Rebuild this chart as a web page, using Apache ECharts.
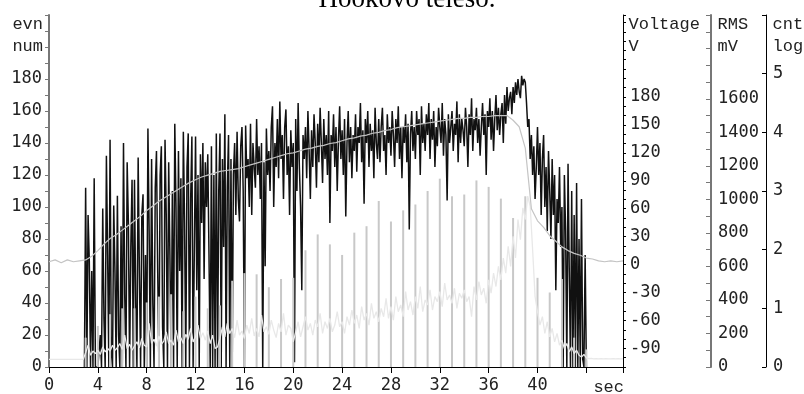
<!DOCTYPE html>
<html><head><meta charset="utf-8">
<script src="https://cdn.jsdelivr.net/npm/echarts@6/dist/echarts.min.js"></script>
<style>html,body{margin:0;padding:0;background:#fff}#c{width:804px;height:394px}</style>
</head><body><div id="c"></div>
<script>
// ---- data ----
const evnStart = 2.9, evnStep = 0.1;   // event count (left axis), sampled every 0.1 s
const evnValues = [0,
112,0,95,66,0,60,0,118,0,0,
0,0,20,0,99,30,0,132,70,0,
142,10,0,101,60,0,107,20,0,88,
0,140,45,0,128,90,0,75,117,0,
117,40,0,131,60,0,95,108,0,70,
0,149,85,0,130,40,0,112,135,60,
0,120,138,25,0,142,95,0,128,70,
0,110,0,152,100,0,135,60,118,0,
147,90,0,125,146,0,105,144,0,0,
144,48,120,0,133,90,140,55,128,100,
133,70,0,138,0,120,0,146,0,110,
146,0,130,75,158,0,112,145,0,130,
0,120,140,95,147,105,91,138,150,110,
0,151,118,130,100,152,95,140,125,112,
155,120,138,105,140,0,128,63,149,120,
135,110,150,163,100,140,125,155,118,166,
130,145,105,150,161,120,138,95,148,125,
140,3,155,110,165,125,100,48,145,130,
150,118,160,135,105,148,125,158,140,112,
152,128,162,140,115,155,130,145,120,160,
90,145,135,158,125,150,110,142,163,130,
148,120,155,94,140,160,128,150,118,145,
135,158,122,150,140,165,128,148,102,155,
140,160,125,152,135,148,118,162,140,130,
155,128,150,162,135,145,120,158,140,150,
132,160,145,125,155,140,163,130,150,118,
150,140,158,128,152,86,145,160,135,150,
130,160,145,155,120,163,140,152,135,158,
145,165,130,155,142,160,125,150,138,162,
150,140,165,132,155,145,104,158,140,150,
160,135,152,145,166,128,158,140,155,148,
138,162,150,125,158,145,168,135,155,148,
162,140,155,132,150,165,145,158,120,160,
150,168,142,160,135,155,170,148,162,145,
158,165,140,170,152,175,160,168,172,158,
175,165,178,170,180,172,168,182,176,180,
178,165,150,155,130,145,120,138,105,125,
150,120,140,95,130,145,100,125,85,135,
110,80,130,95,120,48,105,90,125,75,
100,0,120,85,0,127,60,0,110,0,
95,0,115,0,80,0,105,5,0,70,
0];

const rmsStart = 0, rmsStep = 0.2;     // RMS mV, every 0.2 s
const rmsValues = [
45,45,45,45,45,45,45,45,45,45,45,45,45,45,45,
85,130,70,95,80,
100,75,120,90,110,
95,130,100,115,140,
105,190,110,135,100,
125,150,115,170,130,
120,260,140,165,125,
185,135,155,210,140,
160,130,220,150,175,
140,195,165,230,150,
180,250,170,205,160,
215,140,190,110,120,
170,240,180,260,200,
230,175,280,190,215,
170,250,200,290,185,
230,180,310,210,240,
195,280,220,175,260,
210,320,190,250,230,
150,210,270,180,240,
300,220,260,190,280,
240,320,200,270,230,
290,210,250,330,240,
270,200,300,250,340,
260,310,230,360,280,
320,250,380,290,330,
270,350,300,410,290,
360,280,420,330,370,
300,450,340,390,310,
420,350,480,330,400,
370,460,340,420,390,
450,360,500,400,430,
380,470,350,440,410,
460,390,420,300,480,
400,510,430,470,380,
520,440,560,480,600,
520,650,560,720,600,
780,650,880,760,950,
880,1020,960,700,420,
330,250,300,200,270,
180,230,150,200,130,
160,110,140,90,120,
80,100,70,60,75,
55,50,52,48,50,
49,50,49,50,49,
49,50,49,50,49,
49];

const voltStart = 0, voltStep = 0.5;   // Voltage V, every 0.5 s
const voltValues = [
3,5,2,5,3,4,
5,9,15,22,28,32,37,42,47,52,58,63,68,72,76,80,84,88,91,94,96,98,100,101,
102,103,105,107,109,111,113,115,117,119,120,122,124,125,127,128,130,131,133,135,
136,138,139,141,142,144,145,147,148,149,150,151,152,153,154,155,156,157,157,158,
158,159,159,160,160,160,155,148,125,60,47,40,31,25,19,15,12,10,7,6,4,3,4,3,4];

const cntSeconds = [3,4,5,6,7,8,9,10,11,12,13,14,15,16,17,18,19,20,21,22,23,24,25,26,27,28,29,30,31,32,33,34,35,36,37,38,39,40,41,42,43,44];
const cntValues  = [0.5,0.7,0.9,1.0,1.0,1.1,1.2,1.24,0.95,1.2,1.0,1.05,1.47,1.6,1.58,1.36,1.5,1.52,1.99,2.26,2.09,1.91,2.29,2.4,2.83,2.48,2.67,2.77,3.0,3.21,2.91,2.94,3.18,3.07,2.87,2.54,2.91,1.52,1.27,1.5,0.5,0.3];

const xTickLabels = ['0','4','8','12','16','20','24','28','32','36','40'];
const evnTickLabels = ['0','20','40','60','80','100','120','140','160','180'];
const voltTickLabels = ['-90','-60','-30','0','30','60','90','120','150','180'];
const rmsTickLabels = ['0','200','400','600','800','1000','1200','1400','1600'];
const cntTickLabels = ['0','1','2','3','4','5'];

// ---- build ----
const pairs = (start, step, vals) => vals.map((v, i) => [+(start + i * step).toFixed(2), v]);
const has = (arr) => (v) => arr.indexOf(String(v)) >= 0 ? String(v) : '';

const numFont = { fontFamily: 'DejaVu Sans Mono', fontSize: 17, color: '#222' };
const nameFont = '17px "Liberation Mono"';

const chart = echarts.init(document.getElementById('c'));
chart.setOption({
  animation: false,
  backgroundColor: '#fff',
  grid: { left: 49, right: 181, top: 15, bottom: 27, containLabel: false },
  xAxis: {
    type: 'value', min: 0, max: 47, interval: 4,
    axisLine: { lineStyle: { color: '#000', width: 1 } },
    axisTick: { length: 6, lineStyle: { color: '#000' } },
    axisLabel: Object.assign({ margin: 10, formatter: has(xTickLabels) }, numFont),
    splitLine: { show: false }
  },
  yAxis: [
    { type: 'value', position: 'left', min: 0, max: 220, interval: 10,
      axisLine: { show: true, lineStyle: { color: '#777', width: 2 } },
      axisTick: { show: true, length: 4, lineStyle: { color: '#777' } },
      axisLabel: Object.assign({ margin: 7, formatter: has(evnTickLabels) }, numFont),
      splitLine: { show: false } },
    { type: 'value', position: 'right', offset: 0, min: -110, max: 268, interval: 10,
      axisLine: { show: true, lineStyle: { color: '#000', width: 1 } },
      axisTick: { show: true, length: 3, lineStyle: { color: '#000' } },
      axisLabel: Object.assign({ margin: 7, formatter: has(voltTickLabels) }, numFont),
      splitLine: { show: false } },
    { type: 'value', position: 'right', offset: 88, min: 0, max: 2100, interval: 100,
      axisLine: { show: true, lineStyle: { color: '#777', width: 2 } },
      axisTick: { show: true, inside: true, length: 5, lineStyle: { color: '#777' } },
      axisLabel: Object.assign({ margin: 7, formatter: has(rmsTickLabels) }, numFont),
      splitLine: { show: false } },
    { type: 'value', position: 'right', offset: 143, min: 0, max: 6, interval: 1,
      axisLine: { show: true, lineStyle: { color: '#000', width: 1 } },
      axisTick: { show: true, inside: true, length: 4, lineStyle: { color: '#000' } },
      axisLabel: Object.assign({ margin: 7, formatter: has(cntTickLabels) }, numFont),
      splitLine: { show: false } }
  ],
  series: [
    { name: 'evn', type: 'line', yAxisIndex: 0, data: pairs(evnStart, evnStep, evnValues),
      symbol: 'none', lineStyle: { color: '#111', width: 1.5 }, z: 2 },
    { name: 'cnt', type: 'bar', yAxisIndex: 3, data: cntSeconds.map((s, i) => [s, cntValues[i]]),
      barWidth: 2, itemStyle: { color: '#c8c8c8' }, z: 3 },
    { name: 'RMS', type: 'line', yAxisIndex: 2, data: pairs(rmsStart, rmsStep, rmsValues),
      symbol: 'none', lineStyle: { color: '#e8e8e8', width: 1.3 }, z: 4 },
    { name: 'Voltage', type: 'line', yAxisIndex: 1, data: pairs(voltStart, voltStep, voltValues),
      symbol: 'none', lineStyle: { color: '#c4c4c4', width: 1.2 }, z: 5 }
  ],
  graphic: [
    { type: 'text', style: { text: 'Hookovo teleso.', x: 407, y: 0, font: '27px "Liberation Serif"', fill: '#000', textAlign: 'center', textVerticalAlign: 'middle', align: 'center', verticalAlign: 'middle' } },
    { type: 'text', style: { text: 'evn', x: 43, y: 24.5, font: nameFont, fill: '#222', textAlign: 'right', textVerticalAlign: 'middle', align: 'right', verticalAlign: 'middle' } },
    { type: 'text', style: { text: 'num', x: 43, y: 46.6, font: nameFont, fill: '#222', textAlign: 'right', textVerticalAlign: 'middle', align: 'right', verticalAlign: 'middle' } },
    { type: 'text', style: { text: 'Voltage', x: 628.5, y: 24.5, font: nameFont, fill: '#222', textAlign: 'left', textVerticalAlign: 'middle', align: 'left', verticalAlign: 'middle' } },
    { type: 'text', style: { text: 'V', x: 628.5, y: 46.6, font: nameFont, fill: '#222', textAlign: 'left', textVerticalAlign: 'middle', align: 'left', verticalAlign: 'middle' } },
    { type: 'text', style: { text: 'RMS', x: 717.5, y: 24.5, font: nameFont, fill: '#222', textAlign: 'left', textVerticalAlign: 'middle', align: 'left', verticalAlign: 'middle' } },
    { type: 'text', style: { text: 'mV', x: 717.5, y: 46.6, font: nameFont, fill: '#222', textAlign: 'left', textVerticalAlign: 'middle', align: 'left', verticalAlign: 'middle' } },
    { type: 'text', style: { text: 'cnt', x: 772.5, y: 24.5, font: nameFont, fill: '#222', textAlign: 'left', textVerticalAlign: 'middle', align: 'left', verticalAlign: 'middle' } },
    { type: 'text', style: { text: 'log', x: 772.5, y: 46.6, font: nameFont, fill: '#222', textAlign: 'left', textVerticalAlign: 'middle', align: 'left', verticalAlign: 'middle' } },
    { type: 'text', style: { text: 'sec', x: 624, y: 387, font: nameFont, fill: '#222', textAlign: 'right', textVerticalAlign: 'middle', align: 'right', verticalAlign: 'middle' } }
  ]
});
</script></body></html>
